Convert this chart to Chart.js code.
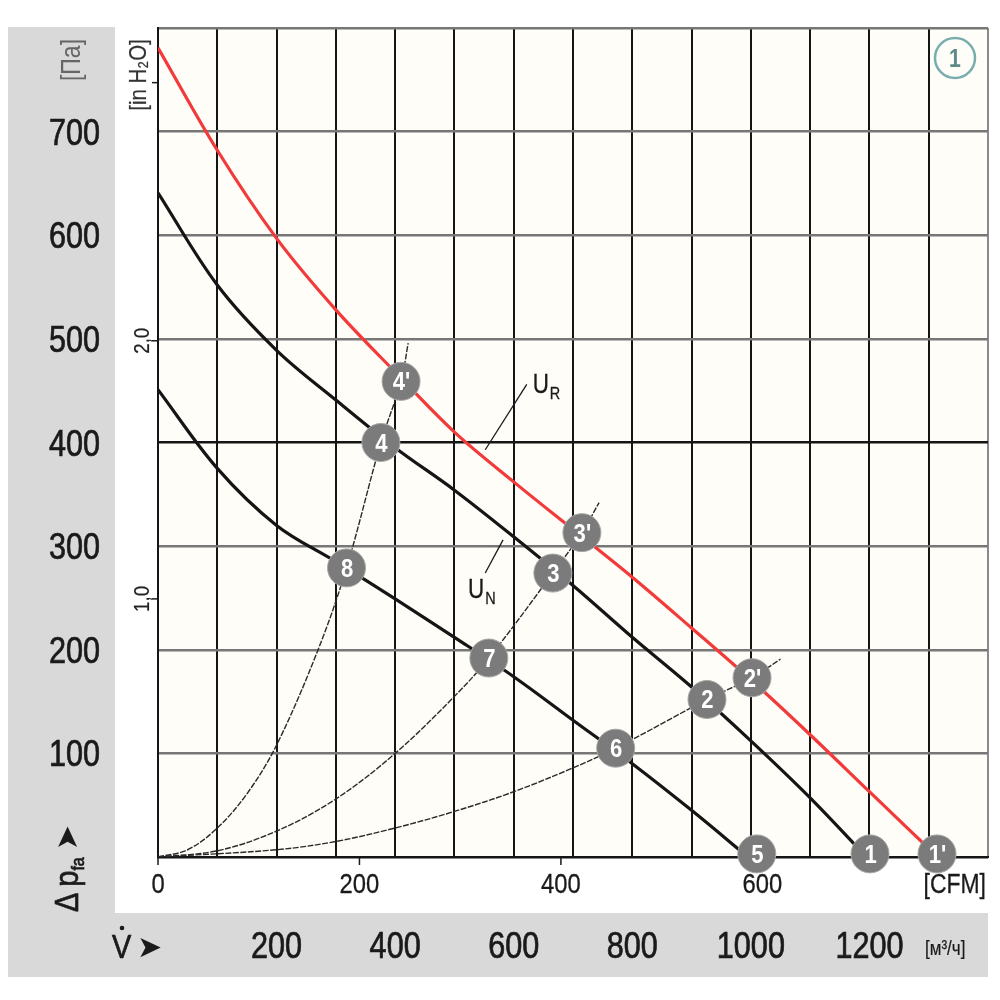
<!DOCTYPE html>
<html><head><meta charset="utf-8">
<script src="https://cdn.jsdelivr.net/npm/chart.js@4/dist/chart.umd.min.js"></script>
<style>html,body{margin:0;padding:0;background:#fff}canvas{display:block}</style>
</head><body>
<canvas id="c" width="1000" height="1000"></canvas>
<script>
// ---------- data (flow in m³/h, pressure in Pa) ----------
const urFlow = [0,100,200,300,400,500,600,700,800,900,1000,1100,1200,1315];
const urPres = [781,682,597,528,468,410,362,316,270,221,171,118,63,0];

const unFlow = [0,100,200,300,400,500,600,700,800,900,1000,1100,1195];
const unPres = [641,552,489,441,395,354,309,262,212,164,112,57,0];

const lowFlow = [0,100,200,300,400,500,600,700,800,900,995];
const lowPres = [451,375,320,285,249,212,174,132,90,45,0];

const sysAFlow = [0,50,100,150,200,270,318,376,410,422];
const sysAPres = [0,7,28,61,108,200,279,400,459,496];
const sysBFlow = [0,100,200,300,400,500,558,666,715,744];
const sysBPres = [0,6,25,56,100,155,192,274,313,342];
const sysCFlow = [0,200,300,400,500,600,700,772,926,1002,1050];
const sysCPres = [0,7,15,28,44,63,86,105,152,173,191];

const opLabels = ['1',"1'",'2',"2'",'3',"3'",'4',"4'",'5','6','7','8'];
const opFlow   = [1201,1314,926,1002,666,715,376,410,1010,772,558,318];
const opPres   = [3,3,152,173,274,313,400,459,3,105,192,279];

const urLeaderFlow = [552,622];
const urLeaderPres = [393,456];
const unLeaderFlow = [582,552];
const unLeaderPres = [306,274];

const paTicks    = [100,200,300,400,500,600,700];
const m3hTicks   = [200,400,600,800,1000,1200];
const cfmTicks   = [0,200,400,600];
const inH2OTicks = [1,2];
const inH2OMarks = [1,2,3];
const M3H_PER_CFM = 1.699;
const PA_PER_INH2O = 249.09;

const pts = (xs, ys) => xs.map((x, i) => ({x, y: ys[i]}));

const FONT = '"Liberation Sans","Arimo",Arial,sans-serif';
const SYM = '"DejaVu Sans",sans-serif';

// draw horizontally condensed text
function ctext(ctx, text, x, y, opt) {
  const o = Object.assign({size: 36, sx: 0.85, align: 'left', base: 'alphabetic',
    color: '#1a1a1a', weight: 'normal', stroke: 0.7, family: FONT}, opt || {});
  ctx.save();
  ctx.translate(x, y);
  if (o.rot) ctx.rotate(o.rot);
  ctx.scale(o.sx, 1);
  ctx.font = o.weight + ' ' + o.size + 'px ' + o.family;
  ctx.textAlign = o.align;
  ctx.textBaseline = o.base;
  ctx.fillStyle = o.color;
  ctx.fillText(text, 0, 0);
  if (o.stroke) { ctx.strokeStyle = o.color; ctx.lineWidth = o.stroke; ctx.strokeText(text, 0, 0); }
  const w = ctx.measureText(text).width * o.sx;
  ctx.restore();
  return w;
}

const decor = {
  id: 'decor',
  beforeDraw(chart) {
    const {ctx, chartArea: a} = chart;
    ctx.save();
    ctx.fillStyle = '#ffffff';
    ctx.fillRect(0, 0, chart.width, chart.height);
    ctx.fillStyle = '#d9d9d9';
    ctx.fillRect(8, 27, a.left - 43 - 8, 977 - 27);
    ctx.fillRect(8, a.bottom + 56, a.right - 8, 977 - (a.bottom + 56));
    ctx.fillStyle = '#fffdf8';
    ctx.fillRect(a.left, a.top, a.right - a.left, a.bottom - a.top);
    ctx.restore();
  },
  beforeDatasetsDraw(chart) {
    const {ctx, chartArea: a, scales} = chart;
    const xs = scales.x, ys = scales.y;
    ctx.save();
    ctx.strokeStyle = '#1a1a1a';
    ctx.lineWidth = 1.5;
    cfmTicks.forEach(v => {
      const x = xs.getPixelForValue(v * M3H_PER_CFM);
      ctx.beginPath(); ctx.moveTo(x, a.bottom); ctx.lineTo(x, a.bottom + 8); ctx.stroke();
    });
    inH2OMarks.forEach(v => {
      const y = ys.getPixelForValue(v * PA_PER_INH2O);
      ctx.beginPath(); ctx.moveTo(a.left - 6, y); ctx.lineTo(a.left, y); ctx.stroke();
    });
    ctx.restore();
  },
  afterDatasetsDraw(chart) {
    const {ctx, chartArea: a, scales} = chart;
    const xs = scales.x, ys = scales.y;

    // main axis labels
    paTicks.forEach(v => ctext(ctx, String(v), a.left - 58, ys.getPixelForValue(v) + 13, {align: 'right'}));
    m3hTicks.forEach(v => ctext(ctx, String(v), xs.getPixelForValue(v), a.bottom + 101, {align: 'center'}));

    // operating point labels
    const meta = chart.getDatasetMeta(0);
    meta.data.forEach((el, i) => ctext(ctx, opLabels[i], el.x + 0.5, el.y + 9,
      {size: 26, weight: 'bold', color: '#ffffff', align: 'center', stroke: 0, sx: 0.85}));

    // U_R / U_N labels
    const sub = (main, s, q, p) => {
      const x = xs.getPixelForValue(q), y = ys.getPixelForValue(p);
      const w = ctext(ctx, main, x, y, {size: 28, sx: 0.8, stroke: 0.3});
      ctext(ctx, s, x + w + 1, y + 6, {size: 17, sx: 0.85, stroke: 0.3});
    };
    sub('U', 'R', 632, 448);
    sub('U', 'N', 523, 250);

    // CFM secondary axis labels
    cfmTicks.forEach(v => ctext(ctx, String(v), xs.getPixelForValue(v * M3H_PER_CFM), a.bottom + 36,
      {size: 28, align: 'center', stroke: 0.3}));
    ctext(ctx, '[CFM]', a.right - 2, a.bottom + 36, {size: 27, align: 'right', stroke: 0.3});

    // in H2O secondary axis labels
    const R = -Math.PI / 2;
    inH2OTicks.forEach(v => {
      const y = ys.getPixelForValue(v * PA_PER_INH2O);
      ctext(ctx, v.toFixed(1).replace('.', ','), a.left - 9, y, {size: 22, rot: R, align: 'center', stroke: 0.2, color: '#222'});
    });
    ctext(ctx, '[in H\u2082O]', a.left - 12, a.top + 47, {size: 24, rot: R, align: 'center', stroke: 0.2, color: '#333'});
    ctext(ctx, '[\u041f\u0430]', 80, a.top + 32, {size: 27, rot: R, align: 'center', stroke: 0, color: '#666'});

    // Δ p_fa ➤ (rotated)
    ctx.save();
    ctx.translate(78, 912);
    ctx.rotate(R);
    let cx = 0;
    cx += ctext(ctx, '\u0394', cx, 0, {size: 34});
    cx += 6;
    cx += ctext(ctx, 'p', cx, 0, {size: 34});
    cx += ctext(ctx, 'fa', cx, 6, {size: 19});
    cx += 7;
    ctx.font = '30px ' + SYM;
    ctx.fillStyle = '#1a1a1a';
    ctx.fillText('\u27A4', cx, -1);
    ctx.restore();

    // V̇ ➤
    ctext(ctx, 'V', 112, 958, {size: 34});
    ctx.save();
    ctx.fillStyle = '#1a1a1a';
    ctx.beginPath(); ctx.arc(122, 928, 2.3, 0, Math.PI * 2); ctx.fill();
    ctx.font = '30px ' + SYM;
    ctx.fillText('\u27A4', 137, 957);
    ctx.restore();
    ctext(ctx, '[\u043c\u00b3/\u0447]', 925, 955, {size: 20, stroke: 0.2});

    // circled 1
    ctx.save();
    ctx.beginPath();
    ctx.arc(955, 58, 20, 0, Math.PI * 2);
    ctx.strokeStyle = '#78aeae';
    ctx.lineWidth = 2.5;
    ctx.stroke();
    ctx.restore();
    ctext(ctx, '1', 955, 67, {size: 25, weight: 'bold', align: 'center', color: '#5e8a8a', stroke: 0});
  }
};

const lineDs = (data, color, width, extra) => Object.assign({
  data, borderColor: color, borderWidth: width, pointRadius: 0,
  fill: false, tension: 0.35, order: 2
}, extra || {});

new Chart(document.getElementById('c'), {
  type: 'line',
  data: {
    datasets: [
      { data: pts(opFlow, opPres), showLine: false, pointRadius: 19, pointHoverRadius: 19,
        pointBackgroundColor: '#7b7b7b', pointBorderColor: '#a8a8a8', pointBorderWidth: 1,
        clip: false, order: 0 },
      lineDs(pts(urFlow, urPres), '#f23a3a', 3.2),
      lineDs(pts(unFlow, unPres), '#151515', 3.2),
      lineDs(pts(lowFlow, lowPres), '#151515', 3.2),
      lineDs(pts(sysAFlow, sysAPres), '#2a2a2a', 1.4, {borderDash: [6, 1.5]}),
      lineDs(pts(sysBFlow, sysBPres), '#2a2a2a', 1.4, {borderDash: [6, 1.5]}),
      lineDs(pts(sysCFlow, sysCPres), '#2a2a2a', 1.4, {borderDash: [6, 1.5]}),
      lineDs(pts(urLeaderFlow, urLeaderPres), '#1a1a1a', 1.3, {tension: 0}),
      lineDs(pts(unLeaderFlow, unLeaderPres), '#1a1a1a', 1.3, {tension: 0})
    ]
  },
  options: {
    responsive: false,
    animation: false,
    layout: { autoPadding: false, padding: { left: 0, right: 12, top: 28, bottom: 0 } },
    plugins: { legend: { display: false }, tooltip: { enabled: false } },
    events: [],
    scales: {
      x: {
        type: 'linear', min: 0, max: 1400,
        afterFit: s => { s.height = 143; s.paddingLeft = 0; s.paddingRight = 0; s.paddingTop = 0; s.paddingBottom = 0; },
        afterBuildTicks: s => { s.ticks = Array.from({length: 15}, (_, i) => ({value: i * 100})); },
        ticks: { display: false },
        grid: {
          drawTicks: false, lineWidth: 2,
          color: c => (c.tick && c.tick.value === 1400) ? '#8a8a8a' : '#151515'
        },
        border: { display: true, color: '#151515', width: 2 }
      },
      y: {
        type: 'linear', min: 0, max: 800,
        afterFit: s => { s.width = 158; s.paddingLeft = 0; s.paddingRight = 0; s.paddingTop = 0; s.paddingBottom = 0; },
        afterBuildTicks: s => { s.ticks = Array.from({length: 9}, (_, i) => ({value: i * 100})); },
        ticks: { display: false },
        grid: {
          drawTicks: false, lineWidth: 2.5,
          color: c => (c.tick && (c.tick.value === 0 || c.tick.value === 400)) ? '#151515' : '#777777'
        },
        border: { display: true, color: '#151515', width: 2 }
      }
    }
  },
  plugins: [decor]
});
</script>
</body></html>
